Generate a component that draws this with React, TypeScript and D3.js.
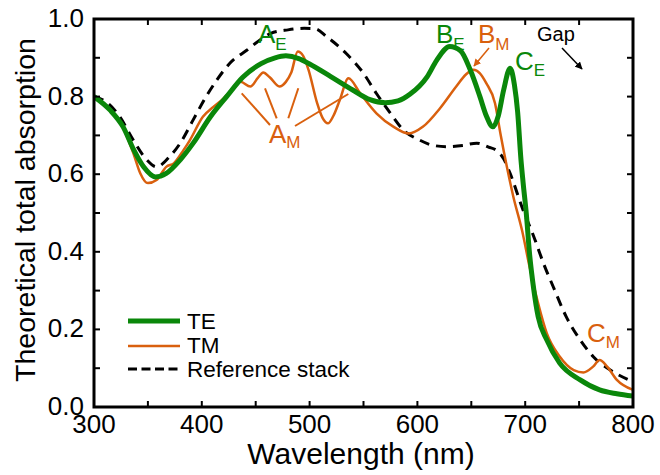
import React from "react";
import * as d3 from "d3";

// ---- data (wavelength nm, absorption) ----
const teData: [number, number][] = [
  [300, 0.800], [315, 0.765], [327, 0.722], [337, 0.662], [346, 0.619], [357, 0.593],
  [367, 0.602], [380, 0.637], [392, 0.680], [408, 0.748], [423, 0.800], [438, 0.850],
  [455, 0.885], [468, 0.900], [478, 0.905], [490, 0.898], [500, 0.884], [520, 0.851],
  [540, 0.817], [556, 0.792], [570, 0.784], [582, 0.789], [593, 0.806], [609, 0.851],
  [618, 0.894], [630, 0.929], [640, 0.918], [649, 0.869], [658, 0.800], [664, 0.750],
  [670, 0.722], [675, 0.750], [680, 0.817], [686, 0.873], [690, 0.830], [693, 0.760],
  [696, 0.640], [698, 0.580], [701, 0.499], [704, 0.396], [708, 0.302], [712, 0.233],
  [720, 0.173], [732, 0.113], [751, 0.070], [769, 0.044], [785, 0.034], [800, 0.028],
];

const tmData: [number, number][] = [
  [300, 0.800], [315, 0.765], [327, 0.720], [337, 0.650], [343, 0.602], [350, 0.577],
  [358, 0.585], [367, 0.619], [374, 0.628], [383, 0.662], [389, 0.688], [401, 0.748],
  [411, 0.774], [420, 0.795], [429, 0.821], [436, 0.838], [445, 0.826], [452, 0.848],
  [457, 0.862], [463, 0.850], [472, 0.826], [478, 0.838], [483, 0.862], [489, 0.916],
  [494, 0.905], [499, 0.869], [507, 0.783], [512, 0.745], [517, 0.731], [522, 0.750],
  [528, 0.791], [536, 0.847], [547, 0.808], [562, 0.757], [578, 0.722], [592, 0.705],
  [605, 0.722], [621, 0.770], [636, 0.826], [645, 0.857], [652, 0.869], [658, 0.860],
  [664, 0.834], [672, 0.783], [677, 0.705], [683, 0.619], [689, 0.542], [697, 0.456],
  [704, 0.362], [712, 0.267], [720, 0.190], [732, 0.130], [745, 0.095], [754, 0.089],
  [763, 0.104], [769, 0.121], [776, 0.104], [785, 0.070], [800, 0.044],
];

const refData: [number, number][] = [
  [300, 0.800], [312, 0.785], [324, 0.748], [336, 0.690], [349, 0.637], [358, 0.619],
  [370, 0.645], [380, 0.680], [392, 0.740], [404, 0.800], [414, 0.843], [426, 0.886],
  [442, 0.920], [454, 0.946], [464, 0.963], [480, 0.972], [495, 0.976], [505, 0.975],
  [516, 0.954], [534, 0.911], [550, 0.860], [562, 0.808], [575, 0.757], [587, 0.714],
  [602, 0.688], [615, 0.674], [627, 0.671], [642, 0.674], [655, 0.680], [666, 0.670],
  [674, 0.660], [680, 0.640], [686, 0.602], [698, 0.508], [708, 0.439], [717, 0.370],
  [726, 0.310], [738, 0.233], [751, 0.173], [763, 0.130], [782, 0.090], [800, 0.065],
];

const xTickLabels = [300, 400, 500, 600, 700, 800];
const xMinorTicks = [350, 450, 550, 650, 750];
const yTickLabels = [0.0, 0.2, 0.4, 0.6, 0.8, 1.0];
const yMinorTicks = [0.1, 0.3, 0.5, 0.7, 0.9];

const GREEN = "#0a870a";
const ORANGE = "#d9600e";
const FONT = "'Liberation Sans', Arial, sans-serif";

export default function App() {
  const left = 94, right = 633, top = 19, bottom = 407;
  const x = d3.scaleLinear().domain([300, 800]).range([left, right]);
  const y = d3.scaleLinear().domain([0, 1]).range([bottom, top]);
  const line = d3
    .line<[number, number]>()
    .x((d) => x(d[0]))
    .y((d) => y(d[1]))
    .curve(d3.curveMonotoneX);

  const allX = [...xTickLabels, ...xMinorTicks];
  const allY = [...yTickLabels, ...yMinorTicks];
  const tl = 6;

  return (
    <svg
      width={660}
      height={475}
      style={{ position: "absolute", left: 0, top: 0, background: "#fff" }}
      fontFamily={FONT}
    >
      <defs>
        <marker id="arrBlack" viewBox="0 0 10 10" refX="9" refY="5" markerWidth="5" markerHeight="5" orient="auto">
          <path d="M0,0 L10,5 L0,10 z" fill="#000" />
        </marker>
        <marker id="arrOrange" viewBox="0 0 10 10" refX="9" refY="5" markerWidth="5" markerHeight="5" orient="auto">
          <path d="M0,0 L10,5 L0,10 z" fill={ORANGE} />
        </marker>
        <clipPath id="plotClip">
          <rect x={left} y={top - 5} width={right - left} height={bottom - top + 5} />
        </clipPath>
      </defs>

      {/* curves */}
      <g clipPath="url(#plotClip)">
        <path d={line(refData) || ""} fill="none" stroke="#000" strokeWidth={3} strokeDasharray="10,7" />
        <path d={line(tmData) || ""} fill="none" stroke={ORANGE} strokeWidth={2.5} />
        <path d={line(teData) || ""} fill="none" stroke={GREEN} strokeWidth={5} />
      </g>

      {/* ticks */}
      {allX.map((t) => (
        <g key={"xt" + t}>
          <line x1={x(t)} x2={x(t)} y1={bottom} y2={bottom - tl} stroke="#000" strokeWidth={2} />
          <line x1={x(t)} x2={x(t)} y1={top} y2={top + tl} stroke="#000" strokeWidth={2} />
        </g>
      ))}
      {allY.map((t) => (
        <g key={"yt" + t}>
          <line x1={left} x2={left + tl} y1={y(t)} y2={y(t)} stroke="#000" strokeWidth={2} />
          <line x1={right} x2={right - tl} y1={y(t)} y2={y(t)} stroke="#000" strokeWidth={2} />
        </g>
      ))}

      {/* frame */}
      <rect x={left} y={top} width={right - left} height={bottom - top} fill="none" stroke="#000" strokeWidth={3} />

      {/* tick labels */}
      {xTickLabels.map((t) => (
        <text key={"xl" + t} x={x(t)} y={433} textAnchor="middle" fontSize={26} fill="#000">
          {t}
        </text>
      ))}
      {yTickLabels.map((t) => (
        <text key={"yl" + t} x={84} y={y(t) + 8} textAnchor="end" fontSize={26} fill="#000">
          {t.toFixed(1)}
        </text>
      ))}

      {/* axis labels */}
      <text x={361} y={464} textAnchor="middle" fontSize={30} fill="#000">
        Wavelength (nm)
      </text>
      <text
        transform={`translate(35, 210) rotate(-90)`}
        textAnchor="middle"
        fontSize={28.5}
        fill="#000"
      >
        Theoretical total absorption
      </text>

      {/* annotations */}
      <text x={258} y={43} fontSize={26} fill={GREEN}>
        A<tspan fontSize={17} dy={7}>E</tspan>
      </text>
      <text x={436} y={43} fontSize={26} fill={GREEN}>
        B<tspan fontSize={17} dy={7}>E</tspan>
      </text>
      <text x={478} y={43} fontSize={26} fill={ORANGE}>
        B<tspan fontSize={17} dy={7}>M</tspan>
      </text>
      <text x={515} y={70} fontSize={26} fill={GREEN}>
        C<tspan fontSize={17} dy={6}>E</tspan>
      </text>
      <text x={269} y={143} fontSize={26} fill={ORANGE}>
        A<tspan fontSize={17} dy={5}>M</tspan>
      </text>
      <text x={587} y={342} fontSize={26} fill={ORANGE}>
        C<tspan fontSize={17} dy={6}>M</tspan>
      </text>
      <text x={537} y={41} fontSize={20} fill="#000">
        Gap
      </text>
      <line x1={562} y1={48} x2={582} y2={69} stroke="#000" strokeWidth={1.5} markerEnd="url(#arrBlack)" />
      <line x1={489} y1={48} x2={474} y2={66} stroke={ORANGE} strokeWidth={1.5} markerEnd="url(#arrOrange)" />

      {/* A_M pointer lines */}
      <line x1={241.7} y1={93.3} x2={270} y2={125} stroke={ORANGE} strokeWidth={2} />
      <line x1={265} y1={88.3} x2={276.7} y2={118.3} stroke={ORANGE} strokeWidth={2} />
      <line x1={298.3} y1={88.3} x2={288.3} y2={118.3} stroke={ORANGE} strokeWidth={2} />
      <line x1={348.3} y1={94} x2={295} y2={126} stroke={ORANGE} strokeWidth={2} />

      {/* legend */}
      <line x1={128} x2={180} y1={321} y2={321} stroke={GREEN} strokeWidth={5} />
      <line x1={128} x2={180} y1={346} y2={346} stroke={ORANGE} strokeWidth={2.5} />
      <line x1={128} x2={180} y1={369} y2={369} stroke="#000" strokeWidth={3} strokeDasharray="9,4.5" />
      <text x={187} y={329} fontSize={22.5} fill="#000">TE</text>
      <text x={187} y={353} fontSize={22.5} fill="#000">TM</text>
      <text x={187} y={377} fontSize={22.5} fill="#000">Reference stack</text>
    </svg>
  );
}
